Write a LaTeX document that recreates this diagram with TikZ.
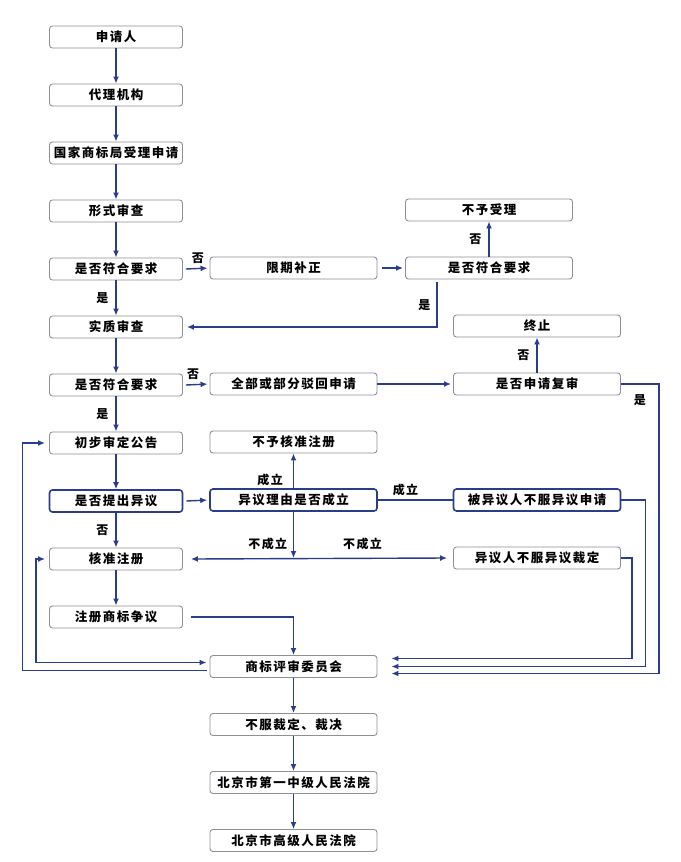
\documentclass[tikz,border=0pt]{standalone}
\usepackage{fontspec}
\setmainfont{Noto Sans CJK SC}[LetterSpace=12]
\usetikzlibrary{arrows.meta}
\definecolor{flowblue}{HTML}{2B3C8C}
\definecolor{boxgray}{HTML}{8E8F99}
\tikzstyle{block} = [rectangle, draw=boxgray, line width=0.9pt, rounded corners=3pt,
    minimum width=133pt, minimum height=22pt, inner sep=0pt,
    font=\fontsize{12.5}{14}\selectfont\bfseries]
\tikzstyle{wide} = [block, minimum width=167pt]
\tikzstyle{hot} = [draw=flowblue, line width=1.6pt]
\tikzstyle{line} = [draw=flowblue, line width=1.4pt, -{Latex[length=7pt,width=6pt]}]
\tikzstyle{both} = [line, {Latex[length=7pt,width=6pt]}-{Latex[length=7pt,width=6pt]}]
\tikzstyle{wire} = [draw=flowblue, line width=1.4pt]
\tikzstyle{tag} = [inner sep=0pt, font=\fontsize{12}{14}\selectfont\bfseries]

\begin{document}
\begin{tikzpicture}[x=1pt, y=-1pt, node distance=58pt]
  \useasboundingbox (0,0) rectangle (680,862);
  % Place nodes
  % left column
  \node [block] (applicant) at (116,37) {申请人};
  \node [block, below of=applicant] (agency) {代理机构};
  \node [block, below of=agency] (office) {国家商标局受理申请};
  \node [block, below of=office] (formal) {形式审查};
  \node [block, below of=formal] (check1) {是否符合要求};
  \node [block, below of=check1] (subst) {实质审查};
  \node [block, below of=subst] (check2) {是否符合要求};
  \node [block, below of=check2] (notice) {初步审定公告};
  \node [block, hot, below of=notice] (oppose) {是否提出异议};
  \node [block, below of=oppose] (approve) {核准注册\hspace{29pt}};
  \node [block, below of=approve] (dispute) {注册商标争议};
  % middle column
  \node [wide] (fix) at (293.5,268) {限期补正};
  \node [wide] (reject) at (293.5,384) {全部或部分驳回申请};
  \node [wide] (nogrant) at (293.5,442) {不予核准注册};
  \node [wide, hot] (grounds) at (293.5,500) {异议理由是否成立};
  \node [wide] (board) at (293.5,666.5) {商标评审委员会};
  \node [wide, below of=board] (verdict) {不服裁定、裁决};
  \node [wide, below of=verdict] (court1) {北京市第一中级人民法院};
  \node [wide, below of=court1] (court2) {北京市高级人民法院};
  % right column
  \node [wide] (refuse) at (489,210) {不予受理};
  \node [wide] (check3) at (489,268) {是否符合要求};
  \node [wide] (stop) at (537,326) {终止};
  \node [wide] (review) at (537,384) {是否申请复审};
  \node [wide, hot] (objectee) at (537,500) {被异议人不服异议申请};
  \node [wide] (objector) at (537,558) {异议人不服异议裁定};
  \coordinate (split) at (grounds.south |- approve);

  % Draw edges
  \foreach \a/\b in {applicant/agency, agency/office, office/formal, formal/check1,
      subst/check2, notice/oppose, approve/dispute, board/verdict, verdict/court1, court1/court2}
    \path [line] (\a) -- (\b);
  \path [line] (check1) -- node [tag, left=7pt] {是} (subst);
  \path [line] (check2) -- node [tag, left=7pt] {是} (notice);
  \path [line] (oppose) -- node [tag, left=7pt] {否} (approve);

  \path [line, shorten >=2pt] ([xshift=3pt]check1.east) -- node [tag, above=4pt] {否} (fix.west);
  \path [line, shorten >=2pt] ([xshift=5pt]fix.east) -- (check3.west);
  \path [line] (check3) -- node [tag, left=7pt] {否} (refuse);
  \path [line] ([xshift=-52pt,yshift=-3pt]check3.south) |- node [tag, pos=0.25, left=6pt] {是}
    ([xshift=4pt]subst.east);

  \path [line, shorten >=2pt] ([xshift=3pt]check2.east) -- node [tag, pos=0.3, above=4pt] {否} (reject.west);
  \path [line, shorten >=2pt] (reject.east) -- (review.west);
  \path [line] (review) -- node [tag, left=7pt] {否} (stop);
  \path [line, shorten >=14pt] (review.east) -- ++(38,0) node [tag, midway, below=10pt] {是}
    |- ([yshift=-7pt]board.east);

  \path [line, shorten >=2pt] ([xshift=3pt]oppose.east) -- (grounds.west);
  \path [line] (grounds) -- node [tag, pos=0.25, left=10pt] {成立} (nogrant);
  \path [wire] (grounds.east) -- node [tag, pos=0.37, above=3pt] {成立} (objectee.west);
  \path [line, shorten >=1pt] (grounds.south) -- (split);
  \path [both] ([xshift=8pt]approve.east) -- node [tag, pos=0.3, above=8pt] {不成立}
    node [tag, pos=0.67, above=8pt] {不成立} ([xshift=-6pt]objector.west);

  \path [line, shorten >=14pt] (objectee.east) -- ++(24,0) |- (board.east);
  \path [line, shorten >=14pt] (objector.east) -- ++(11,0) |- ([yshift=8pt]board.east);
  \path [line] ([xshift=8pt]dispute.east) -| (board.north);
  \path [both] ([xshift=-4pt]approve.west) -- ++(-9,0) |- ([xshift=-3pt,yshift=4pt]board.west);
  \path [line] ([xshift=-3pt,yshift=-4pt]board.west) -- ++(-184,0) |- ([xshift=-4pt]notice.west);
\end{tikzpicture}
\end{document}
